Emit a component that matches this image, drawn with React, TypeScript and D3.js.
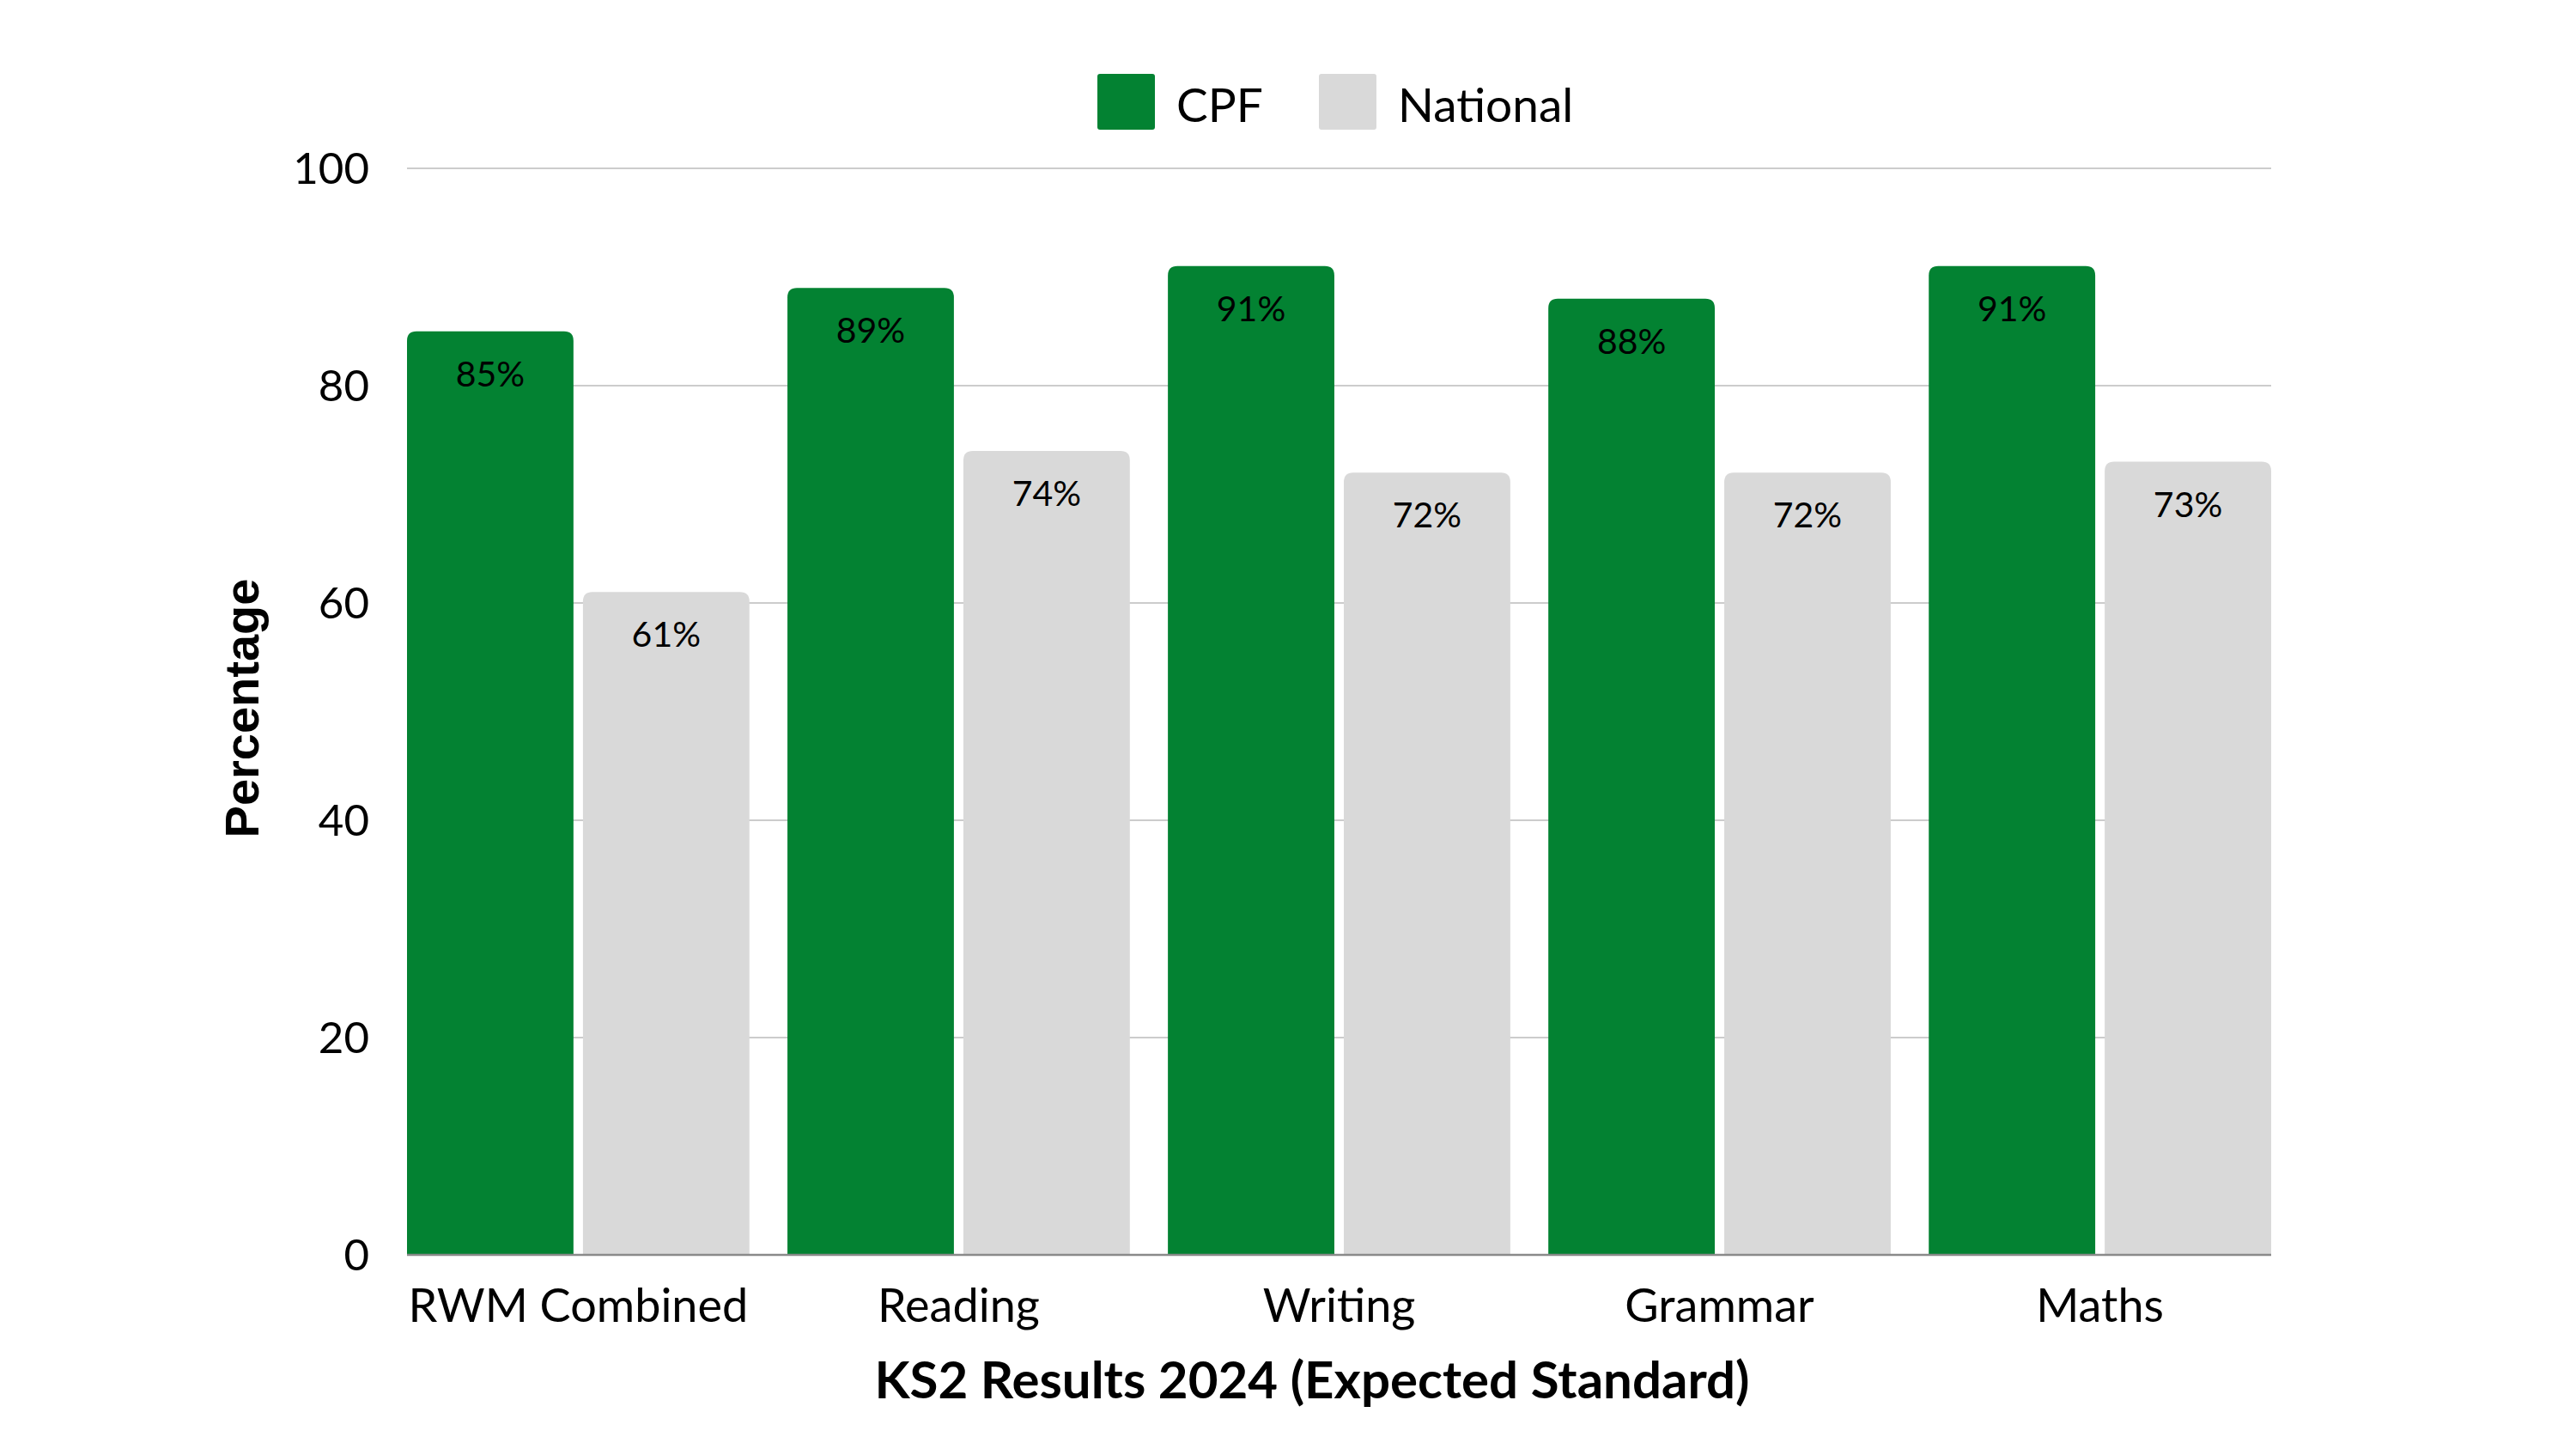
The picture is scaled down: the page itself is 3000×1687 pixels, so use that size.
import { useMemo } from "react";
import * as d3 from "d3";

const subjects = ["RWM Combined", "Reading", "Writing", "Grammar", "Maths"];
const seriesNames = ["CPF", "National"];
const cpfValues = [85, 89, 91, 88, 91];
const nationalValues = [61, 74, 72, 72, 73];
const yTicks = [0, 20, 40, 60, 80, 100];

const colors = ["#038232", "#d9d9d9"];

const WIDTH = 3000;
const HEIGHT = 1687;
const margin = { top: 196, right: 355, bottom: 226, left: 474 };
const labelFont = "Lato, 'Open Sans', sans-serif";

// bar with rounded top corners only
const topRoundedBar = (x: number, y: number, w: number, h: number, r: number) => {
  const rr = Math.min(r, w / 2, h);
  return `M${x},${y + h}V${y + rr}Q${x},${y} ${x + rr},${y}H${x + w - rr}Q${x + w},${y} ${x + w},${y + rr}V${y + h}Z`;
};

export default function App() {
  const chartWidth = WIDTH - margin.left - margin.right;
  const chartHeight = HEIGHT - margin.top - margin.bottom;

  const x0 = useMemo(
    () => d3.scaleBand<string>().domain(subjects).range([0, chartWidth]).paddingInner(0.1).paddingOuter(0),
    [chartWidth]
  );
  const x1 = useMemo(
    () => d3.scaleBand<string>().domain(seriesNames).range([0, x0.bandwidth()]).paddingInner(0.054),
    [x0]
  );
  const y = useMemo(() => d3.scaleLinear().domain([0, 100]).range([chartHeight, 0]), [chartHeight]);

  const rows = subjects.map((s, i) => ({
    subject: s,
    values: [cpfValues[i], nationalValues[i]],
  }));

  return (
    <svg
      width={WIDTH}
      height={HEIGHT}
      style={{ position: "absolute", left: 0, top: 0, background: "#fff" }}
    >
      {/* Legend */}
      <g transform="translate(1278,86)">
        {seriesNames.map((name, i) => (
          <g key={name} transform={`translate(${i * 258},0)`}>
            <rect width={67} height={65} rx={3} fill={colors[i]} />
            <text x={92} y={56} fontSize={55} fontFamily={labelFont} fill="#000">
              {name}
            </text>
          </g>
        ))}
      </g>

      <g transform={`translate(${margin.left},${margin.top})`}>
        {/* Grid lines */}
        {yTicks.map((t) => (
          <g key={t}>
            {t > 0 && (
              <line x1={0} x2={chartWidth} y1={y(t)} y2={y(t)} stroke="#cccccc" strokeWidth={2} />
            )}
            <text
              x={-44}
              y={y(t)}
              dy="0.36em"
              textAnchor="end"
              fontSize={51}
              fontFamily={labelFont}
              fill="#000"
            >
              {t}
            </text>
          </g>
        ))}

        {/* Bars */}
        {rows.map((row) => (
          <g key={row.subject} transform={`translate(${x0(row.subject)},0)`}>
            {row.values.map((v, j) => {
              const bx = x1(seriesNames[j]) ?? 0;
              const bw = x1.bandwidth();
              return (
                <g key={seriesNames[j]}>
                  <path d={topRoundedBar(bx, y(v), bw, chartHeight - y(v), 11)} fill={colors[j]} />
                  <text
                    x={bx + bw / 2}
                    y={y(v) + 64}
                    textAnchor="middle"
                    fontSize={41}
                    fontFamily={labelFont}
                    fill="#000"
                  >
                    {`${v}%`}
                  </text>
                </g>
              );
            })}
            <text
              x={x0.bandwidth() / 2}
              y={chartHeight + 78}
              textAnchor="middle"
              fontSize={54}
              fontFamily={labelFont}
              fill="#000"
            >
              {row.subject}
            </text>
          </g>
        ))}

        {/* Baseline */}
        <line x1={0} x2={chartWidth} y1={chartHeight} y2={chartHeight} stroke="#8a8a8a" strokeWidth={2.5} />

        {/* Axis title */}
        <text
          transform={`translate(${-193},${chartHeight / 2 - 4}) rotate(-90)`}
          textAnchor="middle"
          dy="0.36em"
          fontSize={56}
          fontWeight="bold"
          fontFamily="'Liberation Sans', Arial, sans-serif"
          fill="#000"
        >
          Percentage
        </text>
      </g>

      <text
        x={1528}
        y={1628}
        textAnchor="middle"
        fontSize={60}
        fontWeight="bold"
        fontFamily={labelFont}
        fill="#000"
      >
        KS2 Results 2024 (Expected Standard)
      </text>
    </svg>
  );
}
